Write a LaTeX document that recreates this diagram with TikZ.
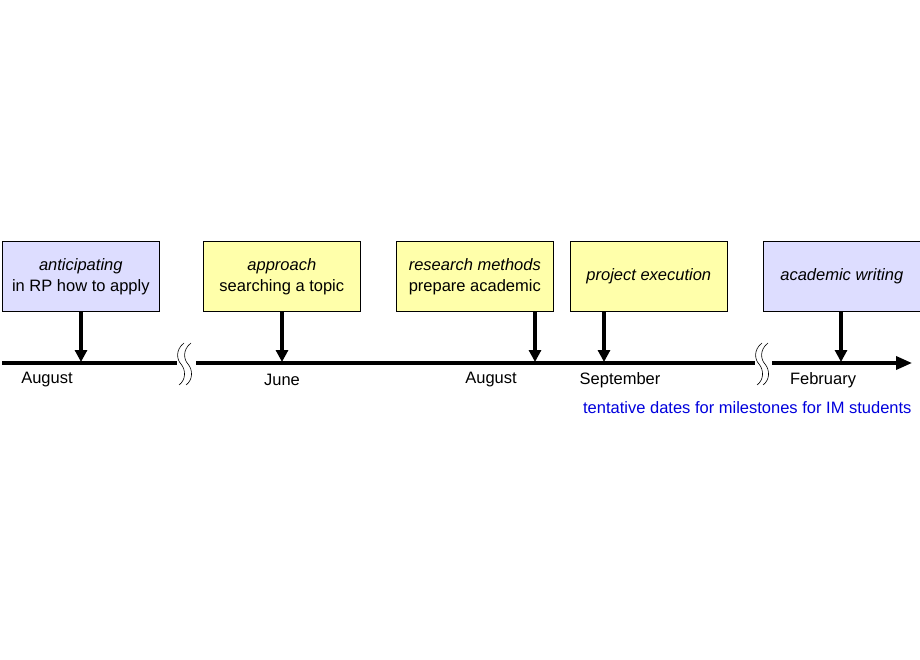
\documentclass[tikz,border=0pt]{standalone}
\usepackage{fontspec}
\setmainfont{Liberation Sans}
\usetikzlibrary{arrows.meta}
\definecolor{boxblue}{HTML}{DDDDFF}
\definecolor{boxyel}{HTML}{FFFFAA}
\definecolor{txtblue}{HTML}{0000DD}
\begin{document}
\begin{tikzpicture}[x=1pt,y=-1pt,
  ms/.style={draw=black,line width=0.6pt,minimum width=157pt,minimum height=70pt,anchor=north west,inner sep=0pt,align=center,font=\fontsize{16.5}{21}\selectfont},
  blu/.style={ms,fill=boxblue},
  yel/.style={ms,fill=boxyel},
  darr/.style={-{Triangle[length=12pt,width=12pt]},line width=3.2pt},
  dat/.style={font=\fontsize{16.5}{20}\selectfont},
  brk/.style={line width=0.6pt}]
\useasboundingbox[fill=white] (0,0) rectangle (920,660);
\node[blu] (b1) at (2,241) {\textit{anticipating}\\in RP how to apply};
\node[yel] (b2) at (203,241) {\textit{approach}\\searching a topic};
\node[yel] (b3) at (396,241) {\textit{research methods}\\prepare academic};
\node[yel] (b4) at (570,241) {\textit{project execution}};
\node[blu] (b5) at (763,241) {\textit{academic writing}};
\coordinate (l0) at (2,363); \coordinate (l1) at (177,363);
\coordinate (l2) at (196,363); \coordinate (l3) at (755,363);
\coordinate (l4) at (772,363); \coordinate (l5) at (912,363);
\draw[line width=3.5pt] (l0) -- (l1);
\draw[line width=3.5pt] (l2) -- (l3);
\draw[line width=3.5pt,-{Triangle[length=16pt,width=13pt]}] (l4) -- (l5);
\foreach \x in {184,191,762,768}{
 \draw[brk] (\x,343) .. controls (\x-9,350) and (\x-7,360) .. (\x-3,364) .. controls (\x+2,370) and (\x+2,380) .. (\x-5,385);}
\foreach \b/\x in {b1/81,b2/282,b3/535,b4/604,b5/841}{
 \coordinate (t\b) at (\x,362);
 \draw[darr] (\b.south -| t\b) -- (t\b);}
\node[dat] (d1) at (47,380) {August};
\node[dat] (d2) at (282,380) {June};
\node[dat] (d3) at (491,380) {August};
\node[dat] (d4) at (620,380) {September};
\node[dat] (d5) at (823,380) {February};
\node[dat,text=txtblue,anchor=east] (note) at (915,408) {tentative dates for milestones for IM students};
\end{tikzpicture}
\end{document}
